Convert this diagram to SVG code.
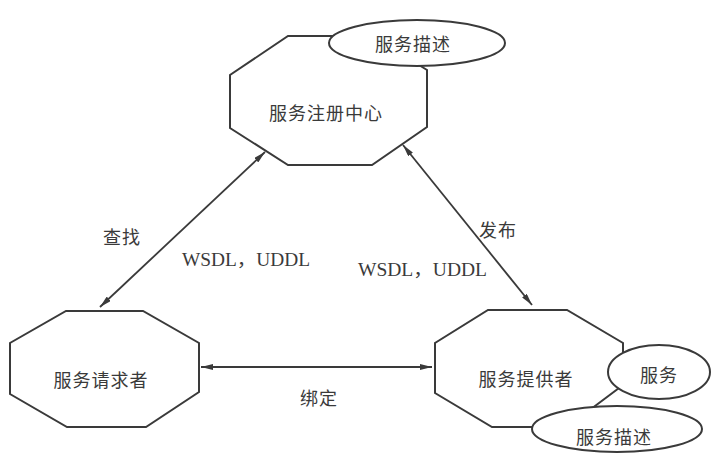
<svg xmlns="http://www.w3.org/2000/svg" width="711" height="454" viewBox="0 0 711 454">
<style>
.shape{fill:#fff;stroke:#3a3a3a;stroke-width:2}
.conn{stroke:#3a3a3a;stroke-width:1.8;fill:none}
.cn{font-family:"Noto Sans CJK SC",sans-serif;font-size:18px;fill:#3a3a3a;text-anchor:middle;dominant-baseline:central;letter-spacing:1px}
.lat{font-family:"Liberation Serif","Noto Sans CJK SC",serif;font-size:18px;fill:#3a3a3a;dominant-baseline:central}
</style>
<defs>
<marker id="ah" viewBox="0 0 12 6" refX="12" refY="3" markerWidth="12" markerHeight="6" markerUnits="userSpaceOnUse" orient="auto-start-reverse">
<path d="M0,0 L12,3 L0,6 Z" fill="#3a3a3a"/>
</marker>
</defs>
<rect width="711" height="454" fill="#fff"/>
<g id="registry">
<polygon class="shape" points="288,36 372,36 427,70 427,127 372,165 288,165 230,128 230,75"/>
<text class="cn" x="326" y="112">服务注册中心</text>
</g>
<g id="registry-desc">
<ellipse class="shape" cx="417" cy="43" rx="88" ry="23"/>
<text class="cn" x="413" y="43">服务描述</text>
</g>
<g id="requester">
<polygon class="shape" points="66,311 143,311 199,343 199,392 146,427 67,427 10,394 10,343"/>
<text class="cn" x="101" y="379">服务请求者</text>
</g>
<g id="provider">
<polygon class="shape" points="488,310 567,310 623,343 623,385 567,427 492,427 435,393 435,343"/>
<text class="cn" x="526" y="378">服务提供者</text>
</g>
<g id="service">
<ellipse class="shape" cx="659" cy="372" rx="51" ry="27"/>
<text class="cn" x="659" y="374">服务</text>
</g>
<g id="provider-desc">
<ellipse class="shape" cx="617" cy="429" rx="85" ry="23"/>
<text class="cn" x="614" y="436">服务描述</text>
</g>
<g id="connectors">
<line class="conn" x1="100" y1="307" x2="265" y2="152" marker-start="url(#ah)" marker-end="url(#ah)"/>
<line class="conn" x1="403" y1="145" x2="532" y2="305" marker-start="url(#ah)" marker-end="url(#ah)"/>
<line class="conn" x1="201" y1="367" x2="432" y2="367" marker-start="url(#ah)" marker-end="url(#ah)"/>
</g>
<g id="labels">
<text class="cn" x="122" y="236">查找</text>
<text class="lat" x="182" y="260" textLength="128" lengthAdjust="spacingAndGlyphs">WSDL，UDDL</text>
<text class="cn" x="498" y="229">发布</text>
<text class="lat" x="358" y="270" textLength="129" lengthAdjust="spacingAndGlyphs">WSDL，UDDL</text>
<text class="cn" x="319" y="397">绑定</text>
</g>
</svg>
